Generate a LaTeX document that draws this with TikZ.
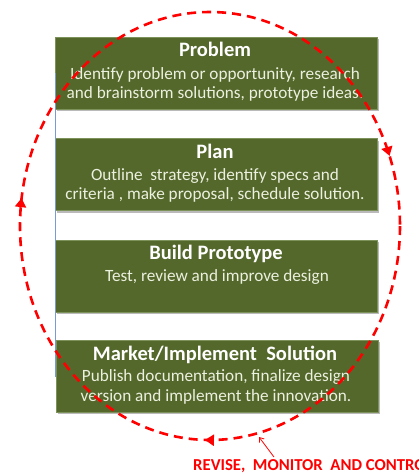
\documentclass[tikz,border=0pt]{standalone}
\usepackage{fontspec}
\setmainfont{Carlito}
\usetikzlibrary{shadows,decorations.markings,arrows.meta}
\definecolor{boxgreen}{RGB}{84,104,44}
\definecolor{boxedge}{RGB}{125,145,90}
\definecolor{bodytext}{RGB}{236,240,222}
\definecolor{loopred}{RGB}{255,0,0}
\definecolor{sideblue}{RGB}{120,155,210}
\begin{document}
\begin{tikzpicture}[x=1pt,y=-1pt,
  stagebox/.style={rectangle, fill=boxgreen, draw=boxedge, line width=0.7pt,
    minimum width=322pt, minimum height=72pt, inner sep=0pt,
    drop shadow={shadow xshift=2pt, shadow yshift=-2pt, opacity=0.45, fill=black!60}},
  stagetitle/.style={anchor=base, inner sep=0pt, text=white, font=\fontsize{20.5}{22}\selectfont\bfseries},
  stagebody/.style={anchor=base, inner sep=0pt, text=bodytext, font=\fontsize{17.2}{19}\selectfont},
  looptip/.tip={Triangle[length=9pt,width=11pt]},
  looparrow/.style={loopred, line width=2.6pt, dash pattern=on 9pt off 6pt,
    postaction={decorate},
    decoration={markings,
      mark=at position 0.254 with {\arrow[solid]{looptip}},
      mark=at position 0.522 with {\arrow[solid]{looptip}},
      mark=at position 0.944 with {\arrow[solid]{looptip}}}}
]
\useasboundingbox (0,0) rectangle (419,475);

\node[stagebox] (problem) at (216,73) {};
\node[stagebox] (plan) at (216,174.5) {};
\node[stagebox] (build) at (216,276) {};
\node[stagebox] (market) at (217,376) {};

\node[stagetitle] (problemT) at (215,56.7) {Problem};
\node[stagebody] (problemA) at (215,79.5) {Identify problem or opportunity, research};
\node[stagebody] (problemB) at (215,98.5) {and brainstorm solutions, prototype ideas.};

\node[stagetitle] (planT) at (215,158.3) {Plan};
\node[stagebody] (planA) at (215,180) {Outline\ \ strategy, identify specs and};
\node[stagebody] (planB) at (215,199.3) {criteria , make proposal, schedule solution.};

\node[stagetitle] (buildT) at (216,259.5) {Build Prototype};
\node[stagebody] (buildA) at (217,281.5) {Test, review and improve design};

\node[stagetitle] (marketT) at (215,360.5) {Market/Implement\ \ Solution};
\node[stagebody] (marketA) at (216,381.5) {Publish documentation, finalize design};
\node[stagebody] (marketB) at (216,401) {version and implement the innovation.};

\coordinate (blueTop) at (55,73);
\coordinate (blueBot) at (55,377);
\draw[sideblue, line width=0.8pt] (blueTop) -- (blueBot);

\coordinate (loopStart) at (400,226);
\draw[looparrow] (loopStart) arc[start angle=0, end angle=-360, x radius=190pt, y radius=214pt];

\node[anchor=west, inner sep=0pt, text=loopred, font=\fontsize{16.7}{18}\selectfont\bfseries] (revise) at (193,466) {REVISE,\ \ MONITOR\ \ AND CONTROL};
\coordinate (noteTail) at (274,457);
\coordinate (noteTip) at (259,437);
\draw[loopred, line width=0.8pt, -{Straight Barb[length=4pt,width=6pt]}] (noteTail) -- (noteTip);
\end{tikzpicture}
\end{document}
